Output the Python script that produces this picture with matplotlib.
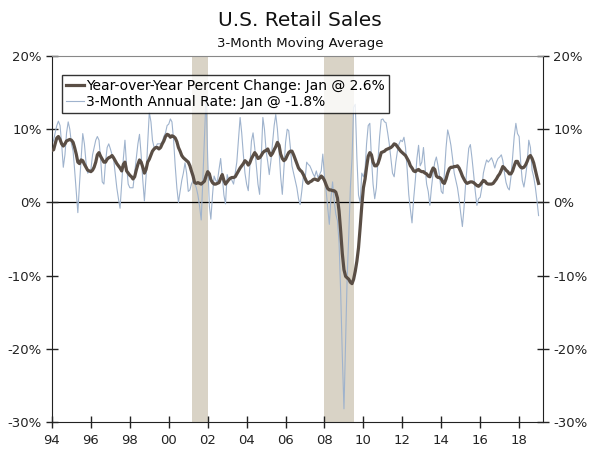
import pandas as pd
import matplotlib
matplotlib.use("Agg")
import matplotlib.pyplot as plt
import matplotlib.dates as mdates
from matplotlib.ticker import FuncFormatter

# ---- DATA (monthly, Jan 1994 - Jan 2019, percent) ----
yoy_change = [
    7.1, 7.2, 8.0, 8.8, 9.0, 8.6, 8.0, 7.7, 8.0, 8.4, 8.5, 8.6,        # 1994
    8.5, 8.2, 7.5, 6.6, 5.5, 5.3, 5.8, 5.7, 5.2, 4.8, 4.4, 4.3,        # 1995
    4.2, 4.4, 4.8, 5.5, 6.5, 6.8, 6.3, 5.9, 5.5, 5.5, 5.9, 6.1,        # 1996
    6.2, 6.4, 6.1, 5.7, 5.3, 5.0, 4.7, 4.3, 5.2, 5.5, 4.3, 4.0,        # 1997
    3.7, 3.5, 3.2, 3.5, 4.4, 5.2, 5.8, 5.5, 4.8, 4.0, 4.5, 5.5,        # 1998
    5.9, 6.5, 7.0, 7.3, 7.5, 7.5, 7.3, 7.5, 8.0, 8.4, 9.0, 9.3,        # 1999
    9.2, 8.9, 9.1, 9.0, 8.8, 8.3, 7.5, 7.0, 6.4, 6.1, 5.9, 5.7,        # 2000
    5.5, 5.0, 4.3, 3.6, 2.7, 2.6, 2.7, 2.6, 2.5, 2.7, 2.9, 3.6,        # 2001
    4.2, 3.9, 3.1, 2.7, 2.5, 2.5, 2.6, 2.7, 3.3, 3.8, 3.0, 2.5,        # 2002
    2.8, 3.1, 3.3, 3.4, 3.4, 3.5, 3.9, 4.3, 4.7, 5.0, 5.3, 5.7,        # 2003
    5.5, 5.1, 5.4, 6.0, 6.4, 6.8, 6.5, 6.0, 6.1, 6.4, 6.8, 7.0,        # 2004
    7.1, 7.3, 6.8, 6.4, 6.7, 7.2, 7.6, 8.2, 7.8, 6.6, 6.0, 5.7,        # 2005
    5.9, 6.4, 6.8, 7.0, 7.0, 6.5, 5.9, 5.3, 4.7, 4.4, 4.2, 3.8,        # 2006
    3.3, 2.8, 2.6, 2.8, 2.9, 3.1, 3.2, 3.1, 3.0, 3.3, 3.6, 3.4,        # 2007
    3.0, 2.4, 1.9, 1.7, 1.7, 1.6, 1.6, 1.4, 0.6, -1.2, -4.0, -7.0,     # 2008
    -9.2, -10.1, -10.3, -10.5, -10.9, -11.1, -10.5, -9.4, -8.0, -6.2, -3.4, -0.5,  # 2009
    2.0, 3.2, 4.8, 6.3, 6.8, 6.5, 5.5, 5.0, 5.0, 5.3, 6.0, 6.8,        # 2010
    6.9, 7.0, 7.2, 7.3, 7.4, 7.5, 7.7, 8.0, 7.9, 7.6, 7.3, 7.0,        # 2011
    6.8, 6.6, 6.4, 6.0, 5.6, 5.0, 4.7, 4.3, 4.2, 4.4, 4.5, 4.3,        # 2012
    4.2, 4.2, 4.0, 3.9, 3.6, 3.5, 4.2, 4.7, 4.5, 3.6, 3.4, 3.4,        # 2013
    3.2, 2.7, 2.6, 3.2, 4.0, 4.6, 4.8, 4.8, 4.9, 4.9, 5.0, 4.7,        # 2014
    4.2, 3.6, 3.2, 2.8, 2.6, 2.7, 2.8, 2.8, 2.7, 2.5, 2.3, 2.2,        # 2015
    2.4, 2.7, 3.0, 2.9, 2.6, 2.5, 2.5, 2.5, 2.6, 2.9, 3.2, 3.6,        # 2016
    3.9, 4.4, 4.9, 4.7, 4.4, 4.2, 3.9, 3.9, 4.3, 5.0, 5.6, 5.6,        # 2017
    5.1, 4.8, 4.7, 4.8, 5.1, 5.6, 6.2, 6.4, 6.0, 5.4, 4.4, 3.5,        # 2018
    2.6,                                                               # 2019
]

annual_rate_3m = [
    8.0, 8.5, 9.5, 10.5, 11.1, 10.5, 8.0, 4.8, 6.5, 9.5, 11.0, 10.0,   # 1994
    8.0, 7.0, 4.5, 1.5, -1.4, 2.5, 6.0, 9.4, 8.0, 5.5, 4.0, 4.2,       # 1995
    4.5, 6.5, 7.5, 8.5, 9.0, 8.5, 6.0, 2.8, 2.5, 5.5, 7.5, 8.0,        # 1996
    7.3, 6.5, 6.0, 4.0, 2.0, 0.5, -0.8, 2.5, 6.0, 8.5, 5.0, 2.5,       # 1997
    2.0, 2.0, 2.0, 4.0, 6.0, 8.0, 9.3, 6.5, 3.0, 0.2, 3.5, 8.0,        # 1998
    12.3, 11.0, 8.5, 7.5, 7.5, 8.0, 8.0, 8.0, 8.3, 9.0, 9.5, 10.5,     # 1999
    10.7, 11.4, 11.0, 8.5, 5.0, 2.0, 0.0, 1.5, 3.0, 4.0, 5.4, 4.0,     # 2000
    1.5, 1.7, 2.5, 3.0, 2.6, 2.0, 1.0, -0.5, -2.4, 3.0, 9.0, 14.5,     # 2001
    6.0, -0.5, -2.3, 1.0, 3.6, 3.0, 2.8, 4.5, 6.0, 3.5, 1.0, -0.2,     # 2002
    3.8, 3.0, 3.4, 3.0, 2.5, 4.0, 5.5, 8.5, 11.6, 9.5, 6.5, 4.0,       # 2003
    2.5, 1.6, 5.0, 8.4, 9.5, 7.5, 5.0, 2.5, 1.1, 6.0, 11.6, 10.0,      # 2004
    7.0, 5.5, 3.8, 5.7, 8.0, 10.5, 12.0, 10.0, 7.0, 3.5, 1.1, 4.5,     # 2005
    8.2, 10.0, 9.8, 7.5, 5.0, 4.0, 3.0, 2.0, 0.5, -0.3, 1.5, 3.5,      # 2006
    3.0, 5.5, 5.2, 5.0, 4.5, 3.9, 3.5, 4.3, 3.4, 3.8, 4.3, 6.6,        # 2007
    3.5, 1.6, -0.7, -3.0, 0.5, 2.8, 0.2, -1.6, -2.5, -5.5, -12.5, -21.0,  # 2008
    -28.2, -19.0, -10.5, -4.5, 2.0, 6.0, 13.0, 13.4, 6.0, 1.0, 0.0, 4.0,  # 2009
    3.5, 4.5, 8.0, 10.5, 10.8, 6.0, 2.5, 0.5, 2.0, 5.7, 9.0, 11.3,     # 2010
    11.4, 11.0, 10.9, 9.5, 8.0, 6.0, 4.0, 3.5, 5.5, 7.0, 8.0, 8.5,     # 2011
    8.3, 8.9, 7.5, 4.5, 1.1, -1.0, -2.8, 0.5, 3.0, 6.0, 7.8, 5.0,      # 2012
    5.5, 7.5, 5.0, 2.5, 1.5, -0.4, 2.0, 4.0, 5.5, 6.2, 5.0, 3.5,       # 2013
    1.5, 1.2, 4.0, 7.5, 9.9, 9.0, 7.8, 6.0, 4.0, 3.0, 2.0, 0.5,        # 2014
    -1.5, -3.3, -1.0, 2.3, 5.0, 7.4, 7.9, 6.0, 3.8, 1.5, -0.4, 0.5,    # 2015
    0.7, 2.0, 4.0, 5.0, 5.8, 5.5, 5.8, 6.1, 5.5, 4.7, 5.5, 6.0,        # 2016
    6.2, 6.5, 5.7, 4.0, 2.7, 2.0, 1.7, 3.5, 6.2, 9.0, 10.8, 9.4,       # 2017
    9.0, 5.3, 3.0, 2.1, 3.5, 5.3, 8.5, 7.5, 4.4, 3.5, 2.1, 0.3,        # 2018
    -1.8,                                                              # 2019
]

recessions = [("2001-03-15", "2002-01-01"), ("2007-12-24", "2009-07-08")]

yoy_label = "Year-over-Year Percent Change: Jan @ 2.6%"
rate_label = "3-Month Annual Rate: Jan @ -1.8%"

dates = pd.date_range("1994-01-01", periods=len(yoy_change), freq="MS")

# ---- PLOT ----
fig = plt.figure(figsize=(6.0, 4.53), dpi=100)
ax = fig.add_axes([52 / 600, 1 - 422 / 453, 491 / 600, 366 / 453])

for start, end in recessions:
    ax.axvspan(pd.Timestamp(start), pd.Timestamp(end), color="#d9d3c6", lw=0, zorder=0)

ax.axhline(0, color="black", lw=0.9, zorder=1)
ax.plot(dates, annual_rate_3m, color="#9fb3cd", lw=0.8, label=rate_label, zorder=2)
ax.plot(dates, yoy_change, color="#5a4e45", lw=2.3, label=yoy_label, zorder=3)

ax.set_xlim(pd.Timestamp("1994-01-01"), pd.Timestamp("2019-03-25"))
ax.set_ylim(-30, 20)
ax.set_yticks(range(-30, 21, 10))
ax.yaxis.set_major_formatter(FuncFormatter(lambda v, p: f"{v:.0f}%"))
ax.xaxis.set_major_locator(mdates.YearLocator(2))
ax.xaxis.set_major_formatter(mdates.DateFormatter("%y"))

ax.tick_params(axis="both", direction="inout", length=9, width=1, labelsize=9.5,
               colors="#222222", pad=3)
ax.tick_params(axis="x", pad=4)
ax.tick_params(axis="y", right=True, labelright=True)

for side in ["left", "right", "bottom"]:
    ax.spines[side].set_color("#222222")
ax.spines["top"].set_color("#888888")

handles, labels = ax.get_legend_handles_labels()
leg = ax.legend(handles[::-1], labels[::-1], loc="upper left",
                bbox_to_anchor=(10 / 491, 1 - 19 / 366), borderaxespad=0,
                fontsize=10, frameon=True, fancybox=False, handlelength=1.3,
                handletextpad=0.1, borderpad=0.3, labelspacing=0.15)
leg.get_frame().set_edgecolor("black")
leg.get_frame().set_linewidth(1.0)

fig.text(0.5, 1 - 20 / 453, "U.S. Retail Sales", ha="center", va="center",
         fontsize=14.5, color="#111111")
fig.text(0.5, 1 - 43 / 453, "3-Month Moving Average", ha="center", va="center",
         fontsize=9.5, color="#111111")

fig.savefig("out.png", dpi=100)
